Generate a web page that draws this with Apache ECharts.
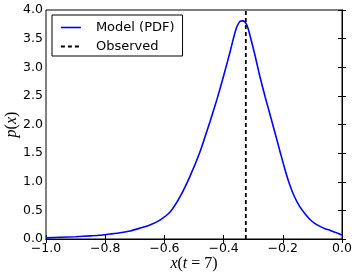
<!DOCTYPE html>
<html>
<head>
<meta charset="utf-8">
<script src="https://cdn.jsdelivr.net/npm/echarts@6/dist/echarts.min.js"></script>
<style>html,body{margin:0;padding:0;background:#fff}#c{width:357px;height:276px}</style>
</head>
<body>
<div id="c"></div>
<script>
// Model PDF samples
const modelX = [-1.0, -0.95, -0.9, -0.85, -0.818, -0.784, -0.75, -0.716, -0.682, -0.649, -0.615, -0.581, -0.547, -0.514, -0.48, -0.446, -0.423, -0.401, -0.378, -0.367, -0.356, -0.345, -0.335, -0.328, -0.32, -0.311, -0.294, -0.277, -0.26, -0.243, -0.221, -0.209, -0.193, -0.176, -0.159, -0.142, -0.125, -0.108, -0.091, -0.074, -0.057, -0.04, -0.024, 0.0];
const modelY = [0.02, 0.03, 0.04, 0.055, 0.065, 0.087, 0.11, 0.14, 0.19, 0.245, 0.33, 0.47, 0.74, 1.09, 1.52, 2.05, 2.43, 2.83, 3.27, 3.50, 3.70, 3.80, 3.81, 3.79, 3.72, 3.56, 3.21, 2.83, 2.49, 2.17, 1.75, 1.52, 1.22, 0.94, 0.72, 0.56, 0.44, 0.34, 0.27, 0.22, 0.18, 0.15, 0.12, 0.07];
const observedX = -0.325;
const yRange = [0, 4];
const xTicks = [-1.0, -0.8, -0.6, -0.4, -0.2, 0.0];
const yTicks = [0.0, 0.5, 1.0, 1.5, 2.0, 2.5, 3.0, 3.5, 4.0];

const modelData = modelX.map((x, i) => [x, modelY[i]]);
const obsData = yRange.map(y => [observedX, y]);

const fmt = v => v.toFixed(1).replace('-', '\u2212');
const tickFont = { fontFamily: 'DejaVu Sans', fontSize: 12.5, color: '#000' };
const frame = { show: true, lineStyle: { color: '#000', width: 1 } };
const tick = { show: true, inside: true, length: 4, lineStyle: { color: '#000' } };
const mathRich = {
  i: { fontFamily: 'Liberation Serif', fontStyle: 'italic', fontSize: 16, fill: '#000', color: '#000' },
  n: { fontFamily: 'Liberation Serif', fontSize: 16, fill: '#000', color: '#000' }
};

const chart = echarts.init(document.getElementById('c'), null, { renderer: 'canvas' });
chart.setOption({
  animation: false,
  backgroundColor: '#fff',
  grid: { left: 46, right: 15, top: 10, bottom: 37, containLabel: false, outerBoundsMode: 'none',
          show: true, borderColor: '#000', borderWidth: 1 },
  legend: {
    orient: 'vertical', left: 52, top: 15,
    padding: [6, 8, 3, 8], itemGap: 6, itemWidth: 20, itemHeight: 14,
    borderColor: '#000', borderWidth: 1, borderRadius: 0, backgroundColor: '#fff',
    itemStyle: { opacity: 0 },
    textStyle: { fontFamily: 'DejaVu Sans', fontSize: 13, color: '#000', padding: [0, 0, 0, 10] },
    data: [
      { name: 'Model (PDF)', lineStyle: { color: '#0000ff', width: 1.6, type: 'solid' } },
      { name: 'Observed', lineStyle: { color: '#000', width: 1.8, type: [4, 3] } }
    ]
  },
  graphic: [{
    type: 'text', x: 12, y: 124.5, rotation: Math.PI / 2,
    style: { text: '{i|p}{n|(}{i|x}{n|)}', rich: mathRich, align: 'center', verticalAlign: 'middle' }
  }],
  xAxis: [{
    type: 'value', min: xTicks[0], max: xTicks[xTicks.length - 1], interval: 0.2,
    axisLine: frame, splitLine: { show: false }, axisTick: tick,
    axisLabel: Object.assign({ formatter: fmt, margin: 3 }, tickFont),
    name: '{i|x}{n|(}{i|t}{n| = 7)}', nameLocation: 'middle', nameGap: 17, nameMoveOverlap: false,
    nameTextStyle: { rich: mathRich }
  }, {
    type: 'value', position: 'top', min: xTicks[0], max: xTicks[xTicks.length - 1], interval: 0.2,
    axisLine: frame, splitLine: { show: false }, axisLabel: { show: false }, axisTick: tick
  }],
  yAxis: [{
    type: 'value', min: yTicks[0], max: yTicks[yTicks.length - 1], interval: 0.5,
    axisLine: frame, splitLine: { show: false }, axisTick: tick,
    axisLabel: Object.assign({ formatter: fmt, margin: 3 }, tickFont)
  }, {
    type: 'value', position: 'right', min: yTicks[0], max: yTicks[yTicks.length - 1], interval: 0.5,
    axisLine: frame, splitLine: { show: false }, axisLabel: { show: false }, axisTick: tick
  }],
  series: [{
    name: 'Model (PDF)', type: 'line', data: modelData, smooth: 0.2,
    showSymbol: false, symbol: 'none',
    lineStyle: { color: '#0000ff', width: 1.6 }, itemStyle: { color: '#0000ff' }
  }, {
    name: 'Observed', type: 'line', data: obsData,
    showSymbol: false, symbol: 'none',
    lineStyle: { color: '#000', width: 1.8, type: [4, 3] }, itemStyle: { color: '#000' }
  }]
});
</script>
</body>
</html>
